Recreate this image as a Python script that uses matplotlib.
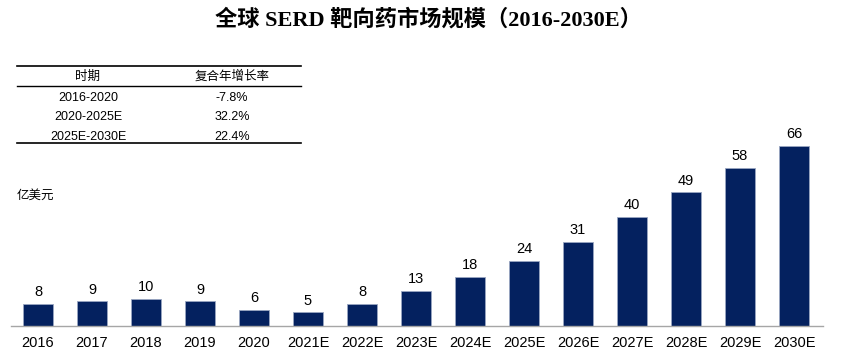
import numpy as np
import matplotlib
matplotlib.use("Agg")
import matplotlib.pyplot as plt

plt.rcParams['font.family'] = ['Liberation Sans', 'Noto Sans CJK SC', 'DejaVu Sans']

# 数据
years = ['2016', '2017', '2018', '2019', '2020', '2021E', '2022E', '2023E',
         '2024E', '2025E', '2026E', '2027E', '2028E', '2029E', '2030E']
market = [8, 9, 10, 9, 6, 5, 8, 13, 18, 24, 31, 40, 49, 58, 66]

cagr_periods = ['2016-2020', '2020-2025E', '2025E-2030E']
cagr_values = ['-7.8%', '32.2%', '22.4%']

W, H = 842, 355
fig = plt.figure(figsize=(W / 100, H / 100), dpi=100)

# 柱状图
ax = fig.add_axes([11 / W, 29 / H, (823 - 11) / W, 218 / H])
x = np.arange(len(years))
bars = ax.bar(x, market, width=0.56, color='#04215f', edgecolor='#9aa6c2', linewidth=0.6)
for xi, v in zip(x, market):
    ax.annotate(str(v), (xi, v), xytext=(0, 3.5), textcoords='offset points',
                ha='center', va='bottom', fontsize=10.5)
ax.set_xlim(-0.5, 14.537)
ax.set_ylim(0, 80)
ax.set_xticks(x)
ax.set_xticklabels(years, fontsize=10.5)
ax.tick_params(axis='x', length=0, pad=7)
ax.set_yticks([])
for s in ['top', 'right', 'left']:
    ax.spines[s].set_visible(False)
ax.spines['bottom'].set_color('#a6a6a6')
ax.spines['bottom'].set_linewidth(1.0)

# 标题
fig.text(428 / W, 1 - 20 / H, '全球 SERD 靶向药市场规模（2016-2030E）',
         ha='center', va='center', fontsize=16, fontweight='bold',
         family=['Liberation Serif', 'Noto Sans CJK SC'])

# 复合增长率表格
def fy(py):
    return 1 - py / H

tx0, tx1 = 17 / W, 301 / W
fig.add_artist(plt.Line2D([tx0, tx1], [fy(66), fy(66)], color='black', lw=1.2))
fig.add_artist(plt.Line2D([tx0, tx1], [fy(86), fy(86)], color='black', lw=1.0))
fig.add_artist(plt.Line2D([tx0, tx1], [fy(143), fy(143)], color='black', lw=1.2))
c1, c2 = 88 / W, 232 / W
fig.text(c1, fy(77), '时期', ha='center', va='center', fontsize=9)
fig.text(c2, fy(77), '复合年增长率', ha='center', va='center', fontsize=9)
for i, (p, v) in enumerate(zip(cagr_periods, cagr_values)):
    yy = fy(98 + 19.5 * i)
    fig.text(c1, yy, p, ha='center', va='center', fontsize=9)
    fig.text(c2, yy, v, ha='center', va='center', fontsize=9)

fig.text(17 / W, fy(196), '亿美元', ha='left', va='center', fontsize=9)

fig.savefig('out.png', dpi=100)
